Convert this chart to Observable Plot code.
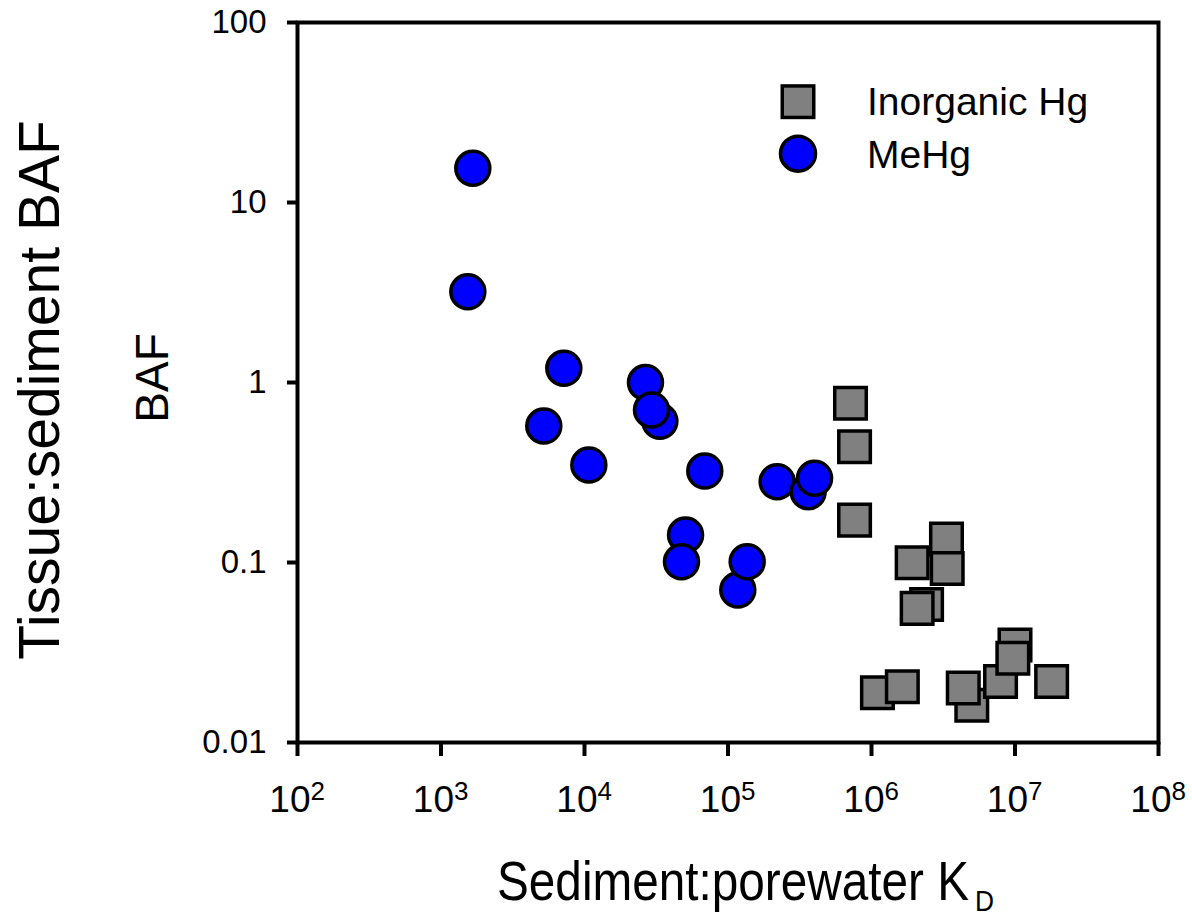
<!DOCTYPE html>
<html>
<head>
<meta charset="utf-8">
<script src="https://cdn.jsdelivr.net/npm/d3@7"></script>
<script src="https://cdn.jsdelivr.net/npm/@observablehq/plot@0.6"></script>
<style>
  html, body { margin: 0; padding: 0; background: #fff; }
  svg { display: block; }
</style>
</head>
<body>
<div id="chart"></div>
<script>
// --- data ---
const seriesNames = ["Inorganic Hg", "MeHg"];

// MeHg (blue circles)
const mehgKd  = [1666, 1538, 7175, 5203, 10720, 26600, 33500, 29300, 68900, 50600, 47400, 117000, 136000, 220000, 362000, 401000];
const mehgBaf = [15.5, 3.19, 1.2, 0.573, 0.348, 1.0, 0.61, 0.703, 0.322, 0.142, 0.101, 0.0704, 0.101, 0.281, 0.247, 0.294];

// Inorganic Hg (gray squares)
const inorgKd  = [714000, 762000, 762000, 3330000, 1920000, 3370000, 2420000, 2080000, 1100000, 1640000, 5000000, 4360000, 7930000, 10000000, 9660000, 18000000];
const inorgBaf = [0.766, 0.44, 0.172, 0.135, 0.0997, 0.0927, 0.0585, 0.0556, 0.0189, 0.0204, 0.0161, 0.0201, 0.0218, 0.0348, 0.0294, 0.0218];

// ticks
const xTicks = [1e2, 1e3, 1e4, 1e5, 1e6, 1e7, 1e8];
const xExponents = ["2", "3", "4", "5", "6", "7", "8"];
const yTicks = [0.01, 0.1, 1, 10, 100];
const yTickLabels = ["0.01", "0.1", "1", "10", "100"];

const mehg = mehgKd.map((k, i) => ({kd: k, baf: mehgBaf[i]}));
const inorg = inorgKd.map((k, i) => ({kd: k, baf: inorgBaf[i]}));
const xTickRows = xTicks.map((t, i) => ({t, e: xExponents[i]}));

const FONT = "Arial, 'Liberation Sans', Helvetica, sans-serif";

const svg = Plot.plot({
  width: 1192,
  height: 915,
  marginLeft: 297,
  marginRight: 34,
  marginTop: 22,
  marginBottom: 173,
  style: {fontFamily: FONT, background: "#fff", color: "#000", overflow: "visible"},
  x: {type: "log", domain: [1e2, 1e8]},
  y: {type: "log", domain: [0.01, 100]},
  marks: [
    Plot.axisY({ticks: yTicks, tickFormat: (d) => yTickLabels[yTicks.indexOf(d)], tickSize: 10, tickPadding: 21,
                fontSize: 33, stroke: "#000", strokeWidth: 4, fill: "#000", label: null}),
    Plot.axisX({ticks: xTicks, tickFormat: () => "", tickSize: 14, stroke: "#000", strokeWidth: 4, label: null}),
    Plot.text(xTickRows, {x: "t", text: () => "10", frameAnchor: "bottom", lineAnchor: "bottom",
                          textAnchor: "end", dx: 13, dy: 69, fontSize: 37, fill: "#000"}),
    Plot.text(xTickRows, {x: "t", text: "e", frameAnchor: "bottom", lineAnchor: "bottom",
                          textAnchor: "start", dx: 13, dy: 57, fontSize: 26, fill: "#000"}),
    Plot.frame({stroke: "#000", strokeWidth: 4}),
    Plot.dot(inorg, {x: "kd", y: "baf", symbol: "square", r: 17.8, fill: "#808080", stroke: "#000", strokeWidth: 3.5}),
    Plot.dot(mehg, {x: "kd", y: "baf", r: 17, fill: "#0000ff", stroke: "#000", strokeWidth: 3.5})
  ]
});

const s = d3.select(svg);

// Y axis titles
s.append("text")
  .attr("transform", "translate(59,390) rotate(-90)")
  .attr("text-anchor", "middle")
  .attr("font-family", FONT).attr("font-size", 57).attr("fill", "#000")
  .text("Tissue:sediment BAF");
s.append("text")
  .attr("transform", "translate(168,378) rotate(-90)")
  .attr("text-anchor", "middle")
  .attr("font-family", FONT).attr("font-size", 46).attr("fill", "#000")
  .text("BAF");

// X axis title with subscript
s.append("text")
  .attr("x", 497).attr("y", 900)
  .attr("text-anchor", "start")
  .attr("font-family", FONT).attr("font-size", 55).attr("fill", "#000")
  .attr("textLength", 472).attr("lengthAdjust", "spacingAndGlyphs")
  .text("Sediment:porewater K");
s.append("text")
  .attr("x", 975).attr("y", 911)
  .attr("text-anchor", "start")
  .attr("font-family", FONT).attr("font-size", 30).attr("fill", "#000")
  .attr("textLength", 19).attr("lengthAdjust", "spacingAndGlyphs")
  .text("D");

// Legend (inside plot area, top right)
const lg = s.append("g").attr("font-family", FONT).attr("font-size", 39).attr("fill", "#000")
  .attr("text-anchor", "start");
lg.append("rect").attr("x", 782.25).attr("y", 85.95).attr("width", 31.5).attr("height", 31.5)
  .attr("fill", "#808080").attr("stroke", "#000").attr("stroke-width", 3.5);
lg.append("circle").attr("cx", 798).attr("cy", 153.7).attr("r", 17.5)
  .attr("fill", "#0000ff").attr("stroke", "#000").attr("stroke-width", 3.5);
lg.append("text").attr("x", 867).attr("y", 115).attr("text-anchor", "start").text(seriesNames[0]);
lg.append("text").attr("x", 867).attr("y", 168.3).attr("text-anchor", "start").text(seriesNames[1]);

document.getElementById("chart").appendChild(svg);
</script>
</body>
</html>
